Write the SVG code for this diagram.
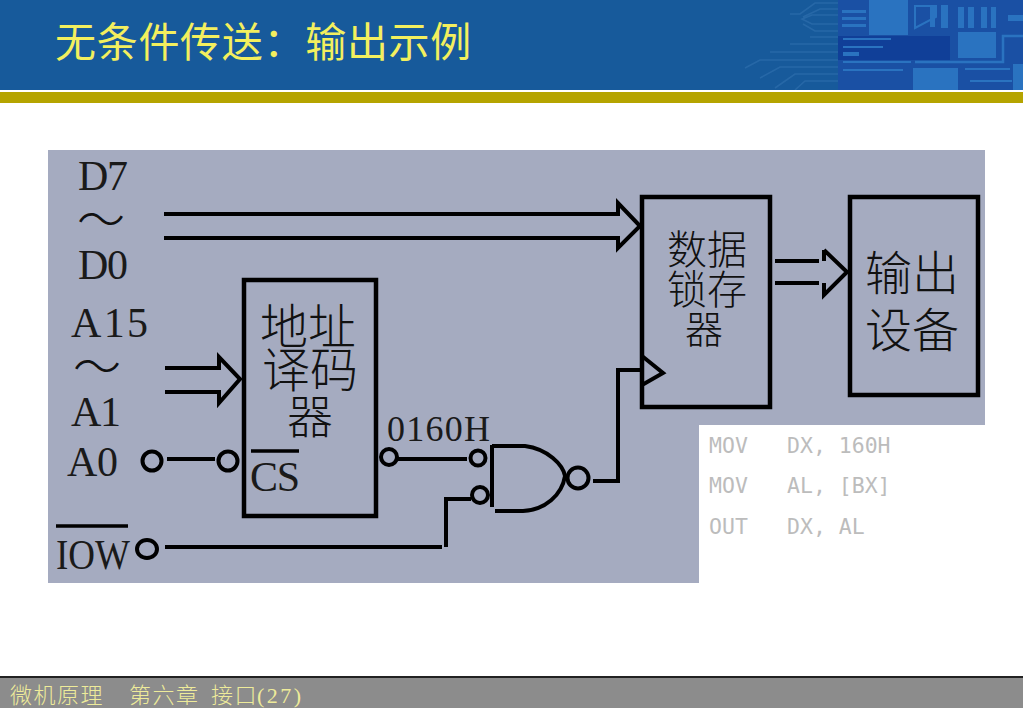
<svg xmlns="http://www.w3.org/2000/svg" width="1023" height="708" viewBox="0 0 1023 708">
<style>
.cn{font-family:"Noto Sans CJK SC","Noto Sans CJK JP",sans-serif;font-weight:300;fill:#111}
.lat{font-family:"Liberation Serif",serif;fill:#1a1a1a}
.mono{font-family:"DejaVu Sans Mono",monospace;font-size:21.5px;fill:#bcbcbc}
.foot{font-family:"Noto Sans CJK SC",sans-serif;font-weight:300;font-size:22px;fill:#eeeb9a}
.box{fill:none;stroke:#000;stroke-width:4.5}
.c{fill:none;stroke:#000;stroke-width:4}
.d{fill:#2a73c0}
.f{fill:none;stroke:#2d6ead;stroke-width:1.6;opacity:.7}
</style>
<rect width="1023" height="708" fill="#fff"/>
<g id="header">
<rect width="1023" height="90" fill="#175a9b"/>
<rect x="838" y="0" width="185" height="90" fill="#1a50a4"/>
<rect x="838" y="36" width="112" height="24" fill="#103f98"/>
<path class="f" d="M838 3H815L800 14H790M838 9H820L803 17M838 15H812L802 19L812 24H838M838 31H815L803 24M838 37H810M838 44H790M838 52H770M838 60H760L745 68M838 67H780L760 78M838 74H795L775 88M838 81H805L795 90"/>
<rect class="d" x="842" y="10" width="24" height="3"/><rect class="d" x="842" y="17" width="24" height="3"/><rect class="d" x="842" y="24" width="24" height="3"/>
<rect class="d" x="869" y="0" width="39" height="35"/>
<path d="M936 6H915V28L936 17Z" fill="none" stroke="#2a73c0" stroke-width="2"/>
<rect class="d" x="930" y="5" width="5" height="22"/><rect class="d" x="941" y="5" width="7" height="23"/><rect class="d" x="958" y="7" width="6" height="21"/><rect class="d" x="968" y="7" width="6" height="21"/><rect class="d" x="981" y="7" width="6" height="21"/><rect class="d" x="991" y="7" width="5" height="21"/>
<rect class="d" x="958" y="32" width="38" height="26"/><rect class="d" x="1008" y="15" width="15" height="6"/>
<path d="M1023 36H1003V62H915" fill="none" stroke="#2a73c0" stroke-width="2.5"/>
<rect class="d" x="843" y="38" width="48" height="2"/><rect class="d" x="843" y="46" width="40" height="2"/><rect class="d" x="843" y="52" width="16" height="4"/><rect class="d" x="843" y="61" width="68" height="2"/><rect class="d" x="843" y="69" width="60" height="2"/>
<rect class="d" x="913" y="68" width="45" height="22"/><rect class="d" x="965" y="68" width="45" height="2"/><rect class="d" x="970" y="80" width="42" height="2"/><rect class="d" x="1013" y="64" width="10" height="26"/>
<rect x="0" y="90" width="1023" height="2" fill="#fff"/>
<rect x="0" y="92" width="1023" height="11" fill="#b5a400"/>
<text x="55" y="57" style="font-family:'Noto Sans CJK SC',sans-serif;font-size:41px;letter-spacing:.7px;fill:#f3ef5e">无条件传送：输出示例</text>
</g>
<path id="panel" d="M48 150H985V425H699V583H48Z" fill="#a5abc0"/>
<g id="connectors">
<path class="c" d="M164 214H618V203L640 226L618 248V238H164"/>
<path class="c" d="M165 368H219V357L240 379L219 403V392H165"/>
<path class="c" d="M775 261H819M775 283H819M824 250V261M824 250L847 272L824 295V283"/>
<path class="c" d="M167 459H215M397 459H467M492 445V507M492 446H525C548 449 563 465 565 476C562 495 545 510 523 511H495"/>
<path class="c" d="M165 547H442M446 547V499H471M593 481H618V370H641M642 356L663 373L642 385"/>
<path d="M56 526H128M251 451H299" fill="none" stroke="#000" stroke-width="3.5"/>
<circle class="c" cx="152" cy="461" r="9.5"/>
<circle class="c" cx="228" cy="461" r="9.5"/>
<ellipse class="c" cx="147" cy="549" rx="10" ry="9"/>
<circle class="c" cx="389" cy="457" r="8"/>
<circle class="c" cx="478" cy="458" r="7.5"/>
<circle class="c" cx="480" cy="495" r="8"/>
<circle class="c" cx="578" cy="478" r="10.5"/>
</g>
<g id="decoder"><rect class="box" x="244" y="280" width="132" height="236"/>
<text class="cn" font-size="48" x="260" y="344">地址</text><text class="cn" font-size="48" x="262" y="387">译码</text><text class="cn" font-size="46" x="287" y="433">器</text>
</g>
<g id="latch"><rect class="box" x="642" y="197" width="128" height="210"/>
<text class="cn" font-size="40" x="667" y="264">数据</text><text class="cn" font-size="40" x="667" y="304">锁存</text><text class="cn" font-size="38" x="685" y="343">器</text></g>
<g id="device"><rect class="box" x="850" y="197" width="128" height="198"/>
<text class="cn" font-size="47" x="865" y="290">输出</text><text class="cn" font-size="47" x="865" y="347">设备</text></g>
<g id="labels">
<text class="lat" font-size="42" x="78" y="190" textLength="50">D7</text>
<text class="cn" font-size="48" x="77" y="237">～</text>
<text class="lat" font-size="42" x="78" y="279" textLength="50">D0</text>
<text class="lat" font-size="42" x="71" y="337" textLength="77">A15</text>
<text class="cn" font-size="48" x="73" y="384">～</text>
<text class="lat" font-size="42" x="71" y="426" textLength="50">A1</text>
<text class="lat" font-size="42" x="67" y="476" textLength="51">A0</text>
<text class="lat" font-size="42" x="56" y="569" textLength="74" lengthAdjust="spacingAndGlyphs">IOW</text>
<text class="lat" font-size="42" x="250" y="491" textLength="50">CS</text>
<text class="lat" font-size="36" x="387" y="441" textLength="103">0160H</text>
</g>
<g id="code">
<text class="mono" x="709" y="453">MOV</text><text class="mono" x="787" y="453">DX, 160H</text>
<text class="mono" x="709" y="493">MOV</text><text class="mono" x="787" y="493">AL, [BX]</text>
<text class="mono" x="709" y="534">OUT</text><text class="mono" x="787" y="534">DX, AL</text>
</g>
<g id="footer">
<rect y="676" width="1023" height="2" fill="#222"/>
<rect y="678" width="1023" height="30" fill="#8c8c8c"/>
<text class="foot" x="10" y="703" letter-spacing="1.5">微机原理</text>
<text class="foot" x="129" y="703" letter-spacing="1.5">第六章</text>
<text class="foot" x="211" y="703" letter-spacing="1.5">接口</text>
<text x="257" y="703" textLength="44" style="font-family:'Liberation Serif',serif;font-size:22px;fill:#eeeb9a">(27)</text>
</g>
</svg>
